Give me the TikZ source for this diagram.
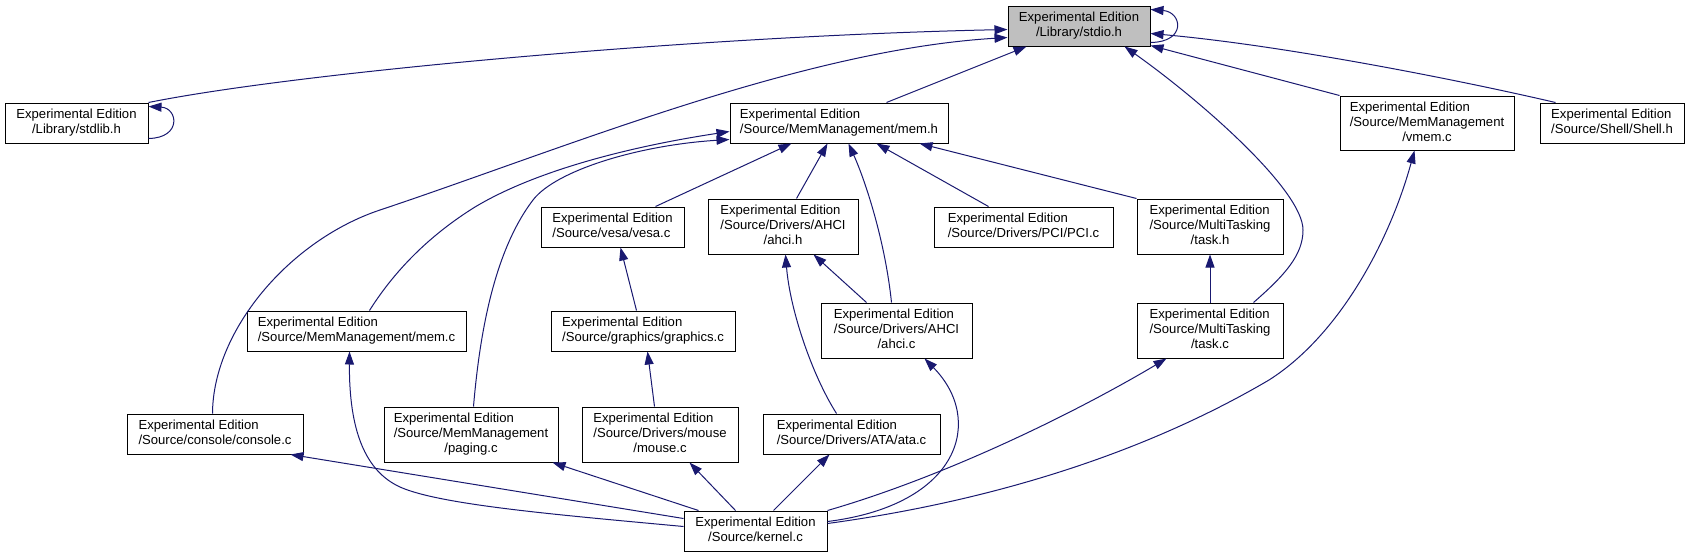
\documentclass[tikz,border=0pt]{standalone}
\usepackage{fontspec}
\setmainfont{Liberation Sans}
\usetikzlibrary{arrows.meta}
\definecolor{edgec}{RGB}{25,25,112}
\definecolor{focusgray}{RGB}{191,191,191}
\newcommand\boxtwol[2]{\begin{tabular}{@{}l@{}}#1\\#2\end{tabular}}
\newcommand\boxtwoc[2]{\begin{tabular}{@{}c@{}}#1\\#2\end{tabular}}
\newcommand\boxthree[3]{\begin{tabular}{@{}l@{}}#1\\#2\\\multicolumn{1}{@{}c@{}}{#3}\end{tabular}}
\begin{document}
\begin{tikzpicture}[x=1pt,y=-1pt,
  box/.style={draw=black, line width=1pt, fill=white, inner sep=0pt, font=\fontsize{13.1}{15}\selectfont},
  dep/.style={draw=edgec, line width=1pt, -{Triangle[length=13pt,width=9pt]}},
]
\fill[white] (0,0) rectangle (1689,557);
\useasboundingbox (0,0) rectangle (1689,557);

% row 1
\node[box, fill=focusgray, minimum width=142pt, minimum height=40pt] (stdio) at (1079,26) {\boxtwoc{Experimental Edition}{/Library/stdio.h}};
% row 2
\node[box, minimum width=143pt, minimum height=40pt] (stdlib) at (76.5,123) {\boxtwoc{Experimental Edition}{/Library/stdlib.h}};
\node[box, minimum width=218pt, minimum height=40pt] (memh) at (839,123) {\boxtwol{Experimental Edition}{/Source/MemManagement/mem.h}};
\node[box, minimum width=174pt, minimum height=54pt] (vmem) at (1427,123) {\boxthree{Experimental Edition}{/Source/MemManagement}{/vmem.c}};
\node[box, minimum width=144pt, minimum height=40pt] (shell) at (1612,123) {\boxtwol{Experimental Edition}{/Source/Shell/Shell.h}};
% row 3
\node[box, minimum width=143pt, minimum height=40pt] (vesa) at (612.5,227) {\boxtwol{Experimental Edition}{/Source/vesa/vesa.c}};
\node[box, minimum width=150pt, minimum height=55pt] (ahcih) at (783,226.5) {\boxthree{Experimental Edition}{/Source/Drivers/AHCI}{/ahci.h}};
\node[box, minimum width=179pt, minimum height=40pt] (pci) at (1023.5,227) {\boxtwol{Experimental Edition}{/Source/Drivers/PCI/PCI.c}};
\node[box, minimum width=146pt, minimum height=55pt] (taskh) at (1210,226.5) {\boxthree{Experimental Edition}{/Source/MultiTasking}{/task.h}};
% row 4
\node[box, minimum width=219pt, minimum height=40pt] (memc) at (356.5,331) {\boxtwol{Experimental Edition}{/Source/MemManagement/mem.c}};
\node[box, minimum width=184pt, minimum height=40pt] (graphics) at (643,331) {\boxtwol{Experimental Edition}{/Source/graphics/graphics.c}};
\node[box, minimum width=151pt, minimum height=55pt] (ahcic) at (896.5,330.5) {\boxthree{Experimental Edition}{/Source/Drivers/AHCI}{/ahci.c}};
\node[box, minimum width=146pt, minimum height=55pt] (taskc) at (1210,330.5) {\boxthree{Experimental Edition}{/Source/MultiTasking}{/task.c}};
% row 5
\node[box, minimum width=176pt, minimum height=40pt] (console) at (215,434) {\boxtwol{Experimental Edition}{/Source/console/console.c}};
\node[box, minimum width=174pt, minimum height=55pt] (paging) at (471,434.5) {\boxthree{Experimental Edition}{/Source/MemManagement}{/paging.c}};
\node[box, minimum width=156pt, minimum height=55pt] (mouse) at (660,434.5) {\boxthree{Experimental Edition}{/Source/Drivers/mouse}{/mouse.c}};
\node[box, minimum width=177pt, minimum height=40pt] (ata) at (851.5,434) {\boxtwol{Experimental Edition}{/Source/Drivers/ATA/ata.c}};
% row 6
\node[box, minimum width=143pt, minimum height=40pt] (kernel) at (755.5,531) {\boxtwoc{Experimental Edition}{/Source/kernel.c}};

% edges into stdio.h
\draw[dep] ([yshift=4pt]stdio.south east) .. controls (1187,42) and (1182,12) .. ([yshift=-4pt]stdio.north east);
\draw[dep] (stdlib.north east) .. controls (300,72) and (700,36) .. ([yshift=-24pt]stdio.north west);
\draw[dep] ([yshift=5pt]stdlib.south east) .. controls (182,138) and (178,108) .. ([yshift=-4pt]stdlib.north east);
\draw[dep] ([xshift=86pt]console.north west) .. controls (213,330) and (290,240) .. (380,210) .. controls (560,150) and (800,50) .. ([yshift=-32pt]stdio.north west);
\draw[dep] ([xshift=157pt]memh.north west) -- ([xshift=19pt]stdio.south west);
\draw[dep] ([xshift=117pt]taskc.north west) .. controls (1285,275) and (1303,255) .. (1303,230) .. controls (1303,190) and (1200,100) .. ([xshift=117pt]stdio.south west);
\draw[dep] (vmem.north west) -- ([yshift=1pt]stdio.south east);
\draw[dep] ([xshift=16pt]shell.north west) .. controls (1450,78) and (1280,45) .. ([yshift=-28pt]stdio.north east);

% edges into mem.h
\draw[dep] ([xshift=123pt]memc.north west) .. controls (395,270) and (430,235) .. (475,207) .. controls (540,168) and (640,145) .. ([yshift=-29pt]memh.north west);
\draw[dep] ([xshift=90pt]paging.north west) .. controls (480,330) and (495,250) .. (533,200) .. controls (556,170) and (640,145) .. ([yshift=-37pt]memh.north west);
\draw[dep] ([xshift=115pt]vesa.north west) -- ([xshift=62pt]memh.south west);
\draw[dep] ([xshift=89pt]ahcih.north west) -- ([xshift=98pt]memh.south west);
\draw[dep] ([xshift=71pt]ahcic.north west) .. controls (885,240) and (865,180) .. ([xshift=119pt]memh.south west);
\draw[dep] ([xshift=55pt]pci.north west) -- ([xshift=147pt]memh.south west);
\draw[dep] (taskh.north west) -- ([xshift=190pt]memh.south west);

% middle edges
\draw[dep] ([xshift=86pt]graphics.north west) -- ([xshift=80pt]vesa.south west);
\draw[dep] ([xshift=46pt]ahcic.north west) -- ([xshift=106pt]ahcih.south west);
\draw[dep] ([xshift=74pt]ata.north west) .. controls (812,375) and (790,310) .. ([xshift=78pt]ahcih.south west);
\draw[dep] ([xshift=73pt]mouse.north west) -- ([xshift=97pt]graphics.south west);
\draw[dep] (taskc.north) -- (taskh.south);

% edges from kernel.c
\draw[dep] ([yshift=-8pt]kernel.north west) -- ([xshift=164pt]console.south west);
\draw[dep] ([yshift=-16pt]kernel.north west) .. controls (560,515) and (440,505) .. (400,487) .. controls (365,471) and (349,430) .. ([xshift=103pt]memc.south west);
\draw[dep] ([xshift=15pt]kernel.north west) -- ([xshift=169pt]paging.south west);
\draw[dep] ([xshift=52pt]kernel.north west) -- ([xshift=108pt]mouse.south west);
\draw[dep] ([xshift=90pt]kernel.north west) -- ([xshift=67pt]ata.south west);
\draw[dep] ([yshift=-11pt]kernel.north east) .. controls (960,505) and (985,420) .. ([xshift=104pt]ahcic.south west);
\draw[dep] (kernel.north east) .. controls (950,475) and (1080,410) .. ([xshift=30pt]taskc.south west);
\draw[dep] ([yshift=-13pt]kernel.north east) .. controls (1000,500) and (1150,450) .. (1269,380) .. controls (1340,335) and (1390,240) .. ([xshift=75pt]vmem.south west);
\end{tikzpicture}
\end{document}
